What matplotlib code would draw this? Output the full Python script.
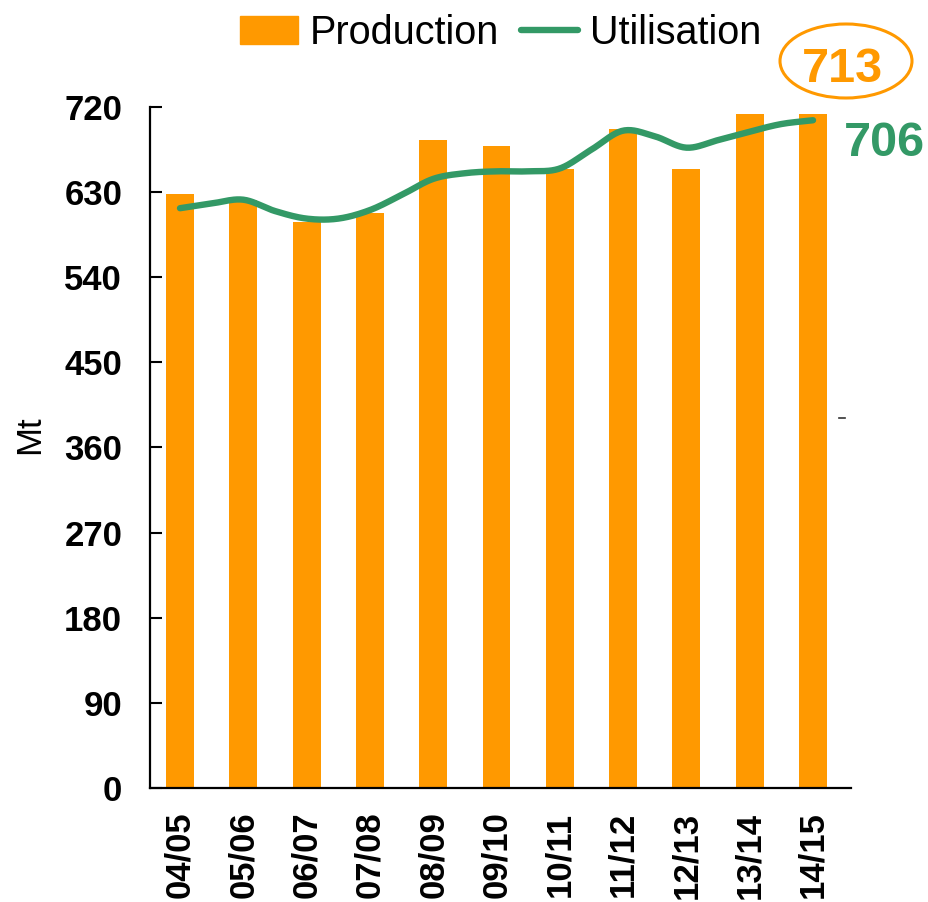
import numpy as np
import matplotlib
matplotlib.use("Agg")
import matplotlib.pyplot as plt
from matplotlib.patches import Ellipse, Patch
from matplotlib.lines import Line2D

# ── Data ───────────────────────────────────────────────────────────────────
years = ["04/05", "05/06", "06/07", "07/08", "08/09", "09/10",
         "10/11", "11/12", "12/13", "13/14", "14/15"]
production = [628, 622, 598, 608, 685, 679, 654, 697, 654, 713, 713]
# utilisation traced every half season (start, mid, next start ...)
utilisation = [613, 618, 622, 610, 602, 602, 611, 627, 644, 650, 652,
               652, 655, 675, 695, 689, 677, 685, 694, 702, 706]
y_ticks = [0, 90, 180, 270, 360, 450, 540, 630, 720]

ORANGE = "#FF9900"
GREEN  = "#339966"
FONT   = ["Liberation Sans", "DejaVu Sans"]

plt.rcParams["font.family"] = FONT


def catmull_rom(x, y, n=20):
    """Smooth curve through the traced points (drawing only)."""
    x = np.asarray(x, float); y = np.asarray(y, float)
    px = np.concatenate([[2 * x[0] - x[1]], x, [2 * x[-1] - x[-2]]])
    py = np.concatenate([[2 * y[0] - y[1]], y, [2 * y[-1] - y[-2]]])
    xs, ys = [], []
    t = np.linspace(0, 1, n, endpoint=False)
    for i in range(1, len(px) - 2):
        for p, out in ((px, xs), (py, ys)):
            p0, p1, p2, p3 = p[i - 1], p[i], p[i + 1], p[i + 2]
            out.extend(0.5 * (2 * p1 + (-p0 + p2) * t
                              + (2 * p0 - 5 * p1 + 4 * p2 - p3) * t ** 2
                              + (-p0 + 3 * p1 - 3 * p2 + p3) * t ** 3))
    xs.append(x[-1]); ys.append(y[-1])
    return np.array(xs), np.array(ys)


fig = plt.figure(figsize=(9.29, 9.02), dpi=100)
ax = fig.add_axes([150 / 929, 1 - 788 / 902, 701 / 929, 681 / 902])

x = np.arange(len(years))
ax.bar(x, production, width=0.44, color=ORANGE, zorder=2)

ux = np.arange(len(utilisation)) / 2
sx, sy = catmull_rom(ux, utilisation)
ax.plot(sx, sy, color=GREEN, lw=4.6, solid_capstyle="round", zorder=3)

ax.set_xlim(-0.474, 10.6)
ax.set_ylim(0, 720)
ax.set_yticks(y_ticks)
ax.set_xticks(x)
ax.set_xticklabels(years, rotation=90, fontsize=25, fontweight="bold")
ax.set_yticklabels([str(v) for v in y_ticks], fontsize=25, fontweight="bold")
ax.tick_params(axis="y", direction="in", length=8.5, width=1.5, pad=20)
ax.tick_params(axis="x", length=0, pad=17)
for s in ["top", "right"]:
    ax.spines[s].set_visible(False)
for s in ["left", "bottom"]:
    ax.spines[s].set_linewidth(1.6)

fig.text(30 / 929, 1 - 435 / 902, "Mt", rotation=90, fontsize=25,
         ha="center", va="center")

# ── Legend ─────────────────────────────────────────────────────────────────
handles = [Patch(color=ORANGE, label="Production"),
           Line2D([], [], color=GREEN, lw=4.6, solid_capstyle="round",
                  label="Utilisation")]
fig.legend(handles=handles, loc="center", bbox_to_anchor=(501 / 929, 1 - 33 / 902),
           ncol=2, frameon=False, fontsize=28.5, handlelength=1.45,
           handleheight=0.72, handletextpad=0.3, columnspacing=0.55,
           borderpad=0, borderaxespad=0)

# ── Value callouts ─────────────────────────────────────────────────────────
fig.add_artist(Ellipse((846 / 929, 1 - 61 / 902), 132 / 929, 74 / 902,
                       transform=fig.transFigure, fill=False,
                       edgecolor=ORANGE, lw=2.2))
fig.text(842 / 929, 1 - 70 / 902, f"{production[-1]}", color=ORANGE,
         fontsize=35, fontweight="bold", ha="center", va="center")
fig.text(884 / 929, 1 - 143 / 902, f"{utilisation[-1]}", color=GREEN,
         fontsize=35, fontweight="bold", ha="center", va="center")

# small stray tick on the right
fig.add_artist(Line2D([839 / 929, 845 / 929], [1 - 418 / 902, 1 - 418 / 902],
                      transform=fig.transFigure, color="#333333", lw=1.2))

fig.savefig("out.png", dpi=100)
